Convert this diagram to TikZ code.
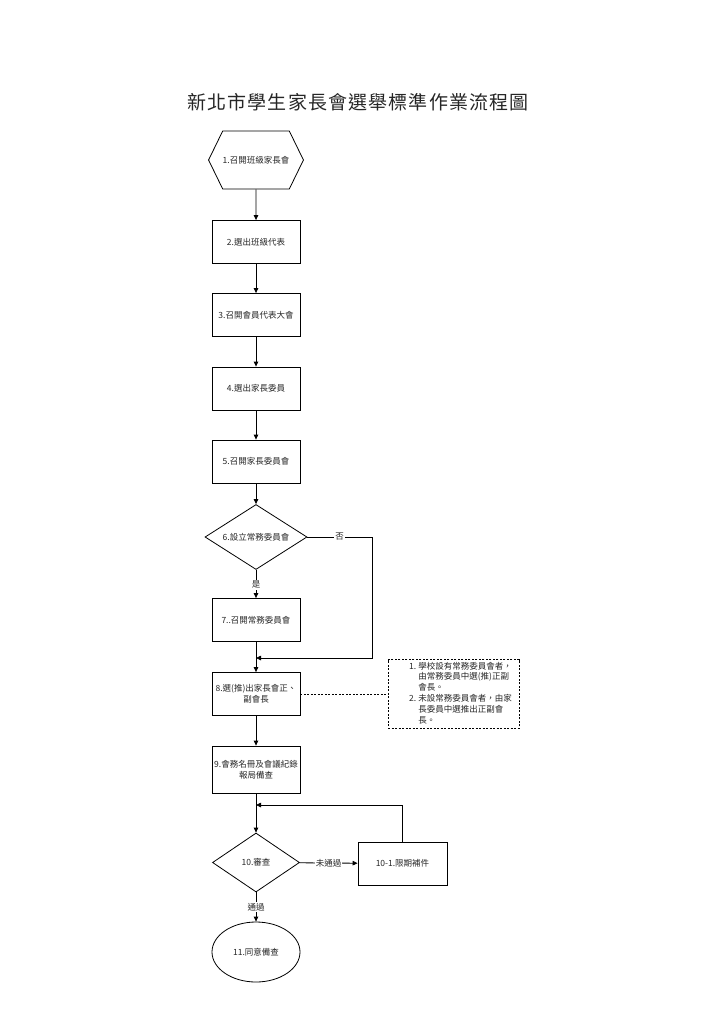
\documentclass[tikz,border=0pt]{standalone}
\usepackage{fontspec}
\setmainfont{Noto Sans CJK TC}
\newfontfamily\titlefont[LetterSpace=6]{Noto Sans CJK TC}
\usetikzlibrary{shapes.geometric,shapes.symbols,arrows.meta}

\begin{document}
\begin{tikzpicture}[x=1pt,y=-1pt,line width=0.8pt,
    every node/.style={font=\fontsize{8.5}{10.8}\selectfont, text=black!85},
    box/.style={draw, rectangle, minimum width=88pt, minimum height=43pt, inner sep=1pt, align=center},
    decide/.style={draw, diamond, inner sep=0pt},
    arr/.style={-{Triangle[length=5pt,width=4.5pt]}},
    lbl/.style={fill=white, inner sep=1pt}]
    \useasboundingbox (0,0) rectangle (724,1024);

    % Title
    \node (title) at (358,102) {\titlefont\fontsize{19}{19}\selectfont 新北市學生家長會選舉標準作業流程圖};

    % Step 1 - start
    \node[draw, signal, signal to=west and east, signal pointer angle=128, minimum width=91pt, minimum height=58pt, inner sep=0pt] (h1) at (256,160) {1.召開班級家長會};

    % Steps 2 to 5
    \node[box] (b2) at (256,242) {2.選出班級代表};
    \node[box] (b3) at (256,315) {3.召開會員代表大會};
    \node[box] (b4) at (256,388.5) {4.選出家長委員};
    \node[box] (b5) at (256,461.5) {5.召開家長委員會};

    % Step 6 - decision
    \node[decide, aspect=1.57, minimum width=102pt, minimum height=65pt] (d6) at (256,537) {6.設立常務委員會};

    % Steps 7 and 8
    \node[box] (b7) at (256,620) {7..召開常務委員會};
    \node[box] (b8) at (256,694) {8.選(推)出家長會正、\\副會長};

    % Note beside step 8
    \node[draw, dash pattern=on 2pt off 1.5pt, line width=0.7pt, minimum width=131pt, minimum height=65pt, inner sep=2pt] (note) at (453.5,694) {%
        \begin{tabular}{@{\hspace{14pt}}r@{\hspace{2pt}}l@{}}
        1. & 學校設有常務委員會者，\\
           & 由常務委員中選(推)正副\\
           & 會長。\\
        2. & 未設常務委員會者，由家\\
           & 長委員中選推出正副會\\
           & 長。
        \end{tabular}};

    % Step 9
    \node[box, minimum height=47pt] (b9) at (256,769.5) {9.會務名冊及會議紀錄\\報局備查};

    % Step 10 - review
    \node[decide, aspect=1.47, minimum width=87pt, minimum height=59pt] (d10) at (256,862.5) {10.審查};
    \node[box, minimum width=89pt] (b101) at (402.5,863.5) {10-1.限期補件};

    % Step 11 - end
    \node[draw, ellipse, minimum width=88pt, minimum height=60pt] (e11) at (256,952) {11.同意備查};

    % Bends
    \coordinate (c6) at (372,537);
    \coordinate (j8) at (256,658);
    \coordinate (j10) at (256,805);

    % Connections
    \draw[arr] (h1) -- (b2);
    \draw[arr] (b2) -- (b3);
    \draw[arr] (b3) -- (b4);
    \draw[arr] (b4) -- (b5);
    \draw[arr] (b5) -- (d6);
    \draw[arr] (d6) -- node[lbl, pos=0.53] {是} (b7);
    \draw[arr] (d6.east) -- node[lbl] {否} (c6) |- (j8);
    \draw[arr] (b7) -- (b8);
    \draw[dash pattern=on 2pt off 1.5pt, line width=0.7pt] (b8.east) -- (note.west);
    \draw[arr] (b8) -- (b9);
    \draw[arr] (b9) -- (d10);
    \draw[arr] (b101.north) |- (j10);
    \draw[arr] (d10) -- node[lbl] {未通過} (b101);
    \draw[arr] (d10) -- node[lbl] {通過} (e11);
\end{tikzpicture}
\end{document}
